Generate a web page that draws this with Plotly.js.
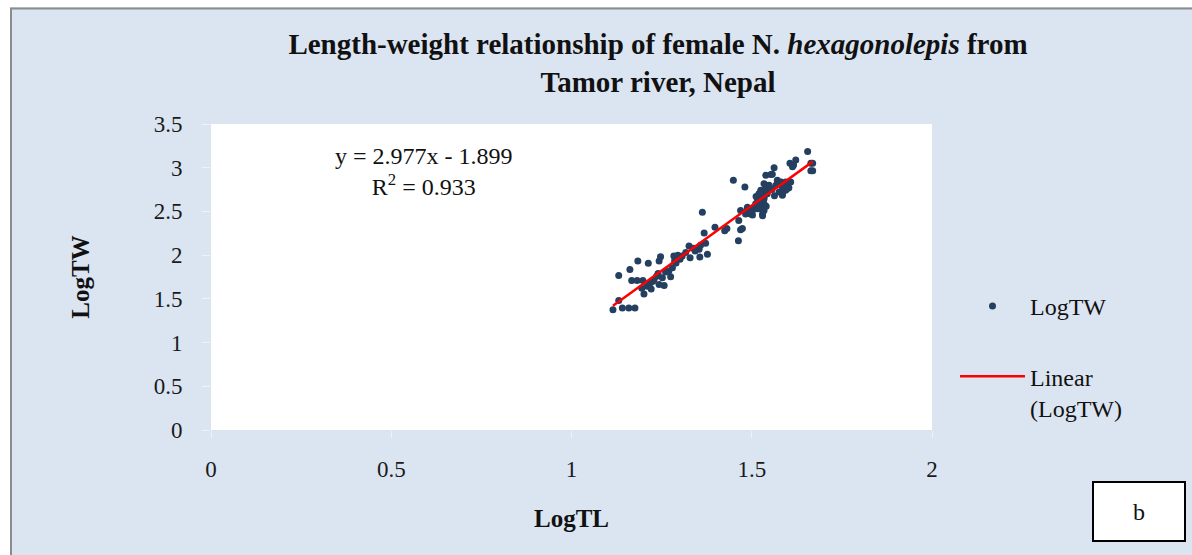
<!DOCTYPE html>
<html>
<head>
<meta charset="utf-8">
<script src="https://cdn.plot.ly/plotly-3.0.1.min.js"></script>
<style>html,body{margin:0;padding:0;background:#fff;}#chart{width:1192px;height:555px;}</style>
</head>
<body>
<div id="chart"></div>
<script>
// Data
const logTL = [1.115,1.131,1.141,1.159,1.176,1.131,1.162,1.184,1.167,1.182,1.198,1.213,1.201,1.210,1.219,1.229,1.236,1.243,1.252,1.221,
  1.247,1.243,1.257,1.275,1.261,1.280,1.286,1.284,1.295,1.307,1.326,1.329,1.356,1.354,1.377,1.368,1.372,1.363,1.398,1.431,
  1.425,1.463,1.469,1.449,1.481,1.358,1.343,1.317,1.301,1.464,1.469,1.483,1.488,1.497,1.502,1.506,1.511,1.516,1.520,1.525,
  1.525,1.530,1.534,1.534,1.534,1.539,1.543,1.548,1.539,1.557,1.562,1.571,1.581,1.567,1.576,1.585,1.599,1.603,1.594,1.606,
  1.616,1.622,1.655,1.664,1.664,1.530,1.516,1.488,1.497,1.502,1.553,1.548,1.594,1.608,1.585,1.599,1.585,1.543,1.539,1.525,
  1.534,1.525,1.534,1.530,1.613,1.669,1.669,1.474,1.519,1.512,1.556,1.563,1.540,1.195,1.226,1.240,1.270,1.290,1.338];
const logTW = [1.375,1.482,1.394,1.394,1.394,1.767,1.837,1.933,1.710,1.710,1.710,1.906,1.556,1.644,1.683,1.721,1.759,1.663,1.741,1.614,
  1.983,1.933,1.652,1.752,1.806,1.856,1.933,1.990,1.998,1.990,2.106,1.971,1.979,2.068,2.010,2.253,2.137,2.491,2.318,2.306,
  2.279,2.164,2.291,2.857,2.780,2.114,2.048,2.029,1.952,2.395,2.510,2.472,2.530,2.472,2.510,2.549,2.588,2.645,2.703,2.741,
  2.530,2.626,2.588,2.665,2.818,2.761,2.703,2.800,2.914,2.926,2.999,2.857,2.838,2.799,2.722,2.703,2.799,2.770,2.741,3.050,
  3.030,3.088,3.185,2.965,3.050,2.472,2.530,2.549,2.491,2.460,2.922,2.780,2.838,2.838,2.780,2.761,2.684,2.780,2.722,2.703,
  2.645,2.588,2.510,2.452,3.011,3.050,2.965,2.306,2.600,2.670,2.750,2.680,2.560,1.620,1.700,1.790,1.820,1.910,2.080];
const trendCoef = [2.977, -1.899];   // slope, intercept shown on the chart
const trendR2 = 0.933;
const xTicks = [0, 0.5, 1, 1.5, 2];
const yTicks = [0, 0.5, 1, 1.5, 2, 2.5, 3, 3.5];

const xMin = Math.min(...logTL), xMax = Math.max(...logTL);
const trendX = [xMin, xMax];
const trendY = trendX.map(v => trendCoef[0] * v + trendCoef[1]);

const serif = '"Liberation Serif", "Times New Roman", serif';

const traces = [
  {x: logTL, y: logTW, type: 'scatter', mode: 'markers', name: 'LogTW', legendgroup: 'a',
   marker: {color: '#243f60', size: 7, symbol: 'circle'}},
  {x: trendX, y: trendY, type: 'scatter', mode: 'lines', name: 'Linear<br>(LogTW)', legendgroup: 'b',
   line: {color: '#ff0000', width: 2.5}}
];

const layout = {
  width: 1192, height: 555,
  paper_bgcolor: '#dbe5f1', plot_bgcolor: '#ffffff',
  margin: {l: 211, r: 260, t: 124, b: 125, autoexpand: false},
  font: {family: serif, size: 22, color: '#1a1a1a'},
  title: {
    text: 'Length-weight relationship of female N. <i>hexagonolepis</i> from<br>Tamor river, Nepal',
    font: {family: serif, size: 29, color: '#111', weight: 'bold'},
    xref: 'container', yref: 'container', x: 658 / 1192, y: 1 - 54 / 555,
    xanchor: 'center', yanchor: 'top'
  },
  xaxis: {
    range: [0, 2], tickvals: xTicks, ticktext: xTicks.map(String),
    showgrid: false, zeroline: false, showline: false,
    ticks: 'outside', ticklen: 7, tickcolor: '#eef2f8', tickwidth: 1,
    ticklabelstandoff: 11,
    tickfont: {family: serif, size: 23, color: '#1a1a1a'},
    title: {text: '<b>LogTL</b>', font: {family: serif, size: 25, color: '#111'}, standoff: 28},
    automargin: false
  },
  yaxis: {
    range: [0, 3.5], tickvals: yTicks, ticktext: yTicks.map(String),
    showgrid: false, zeroline: false, showline: false,
    ticks: 'outside', ticklen: 8, tickcolor: '#eef2f8', tickwidth: 1,
    ticklabelstandoff: 15,
    tickfont: {family: serif, size: 23, color: '#1a1a1a'},
    title: {text: '<b>LogTW</b>', font: {family: serif, size: 25, color: '#111'}, standoff: 56},
    automargin: false
  },
  showlegend: true,
  legend: {
    xref: 'container', yref: 'container', x: 955 / 1192, y: 1 - 284 / 555,
    xanchor: 'left', yanchor: 'top', bgcolor: 'rgba(0,0,0,0)',
    font: {family: serif, size: 24, color: '#111'},
    traceorder: 'grouped', tracegroupgap: 36, valign: 'top', itemwidth: 65
  },
  annotations: [
    {xref: 'paper', yref: 'paper', x: (424 - 211) / 721, y: (430 - 171) / 306,
     xanchor: 'center', yanchor: 'middle', showarrow: false, align: 'center',
     text: 'y = ' + trendCoef[0].toFixed(3) + 'x - ' + Math.abs(trendCoef[1]).toFixed(3) + '<br>R<sup>2</sup> = ' + trendR2.toFixed(3),
     font: {family: serif, size: 24, color: '#111'}},
    {xref: 'paper', yref: 'paper', x: (1139 - 211) / 721, y: (430 - 511) / 306,
     xanchor: 'center', yanchor: 'middle', showarrow: false, text: 'b',
     width: 88, height: 55, bgcolor: '#ffffff', bordercolor: '#000000', borderwidth: 2, borderpad: 1,
     font: {family: serif, size: 24, color: '#111'}}
  ],
  shapes: [
    {type: 'rect', xref: 'paper', yref: 'paper', x0: -0.32, x1: (10 - 211) / 721, y0: -0.45, y1: 1.45,
     fillcolor: '#ffffff', line: {width: 0}, layer: 'below'},
    {type: 'rect', xref: 'paper', yref: 'paper', x0: -0.32, x1: 1.40, y0: (430 - 7) / 306, y1: 1.45,
     fillcolor: '#ffffff', line: {width: 0}, layer: 'below'},
    {type: 'rect', xref: 'paper', yref: 'paper', x0: (11 - 211) / 721, x1: 1.40, y0: -0.45, y1: (430 - 8.5) / 306,
     fillcolor: 'rgba(0,0,0,0)', line: {color: '#8c8c8c', width: 2}, layer: 'below'}
  ]
};

Plotly.newPlot('chart', traces, layout, {displayModeBar: false, staticPlot: true});
</script>
</body>
</html>
